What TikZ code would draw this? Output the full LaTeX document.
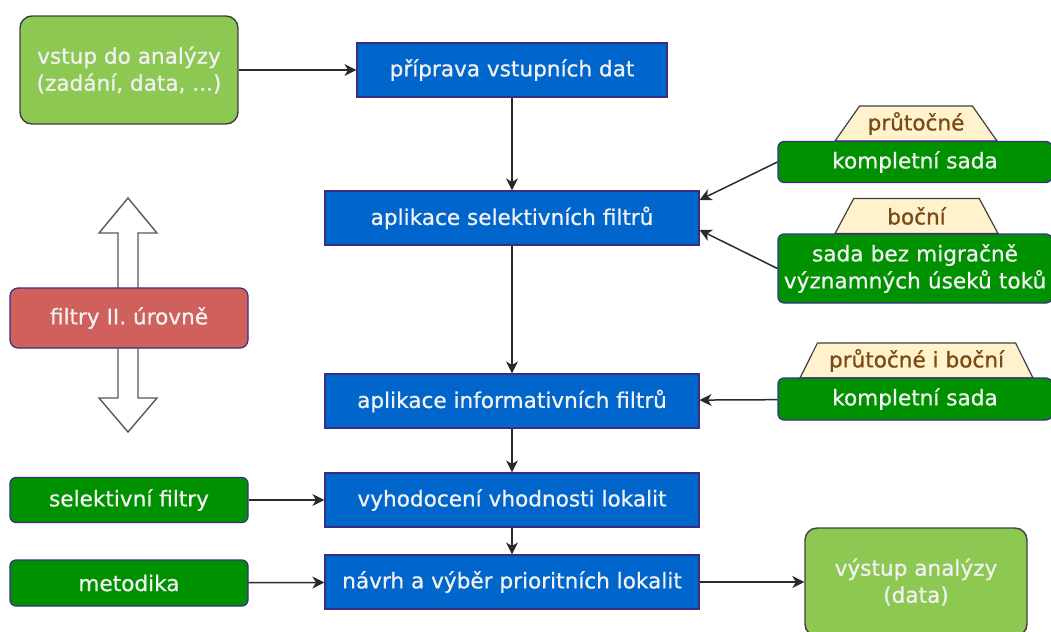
\documentclass[tikz,border=0pt]{standalone}
\usepackage{fontspec}
\setmainfont{DejaVu Sans}[FakeBold=0.7]
\usepackage{tikz}
\usetikzlibrary{positioning}
\usetikzlibrary{shapes.geometric}
\usetikzlibrary{arrows.meta}

\definecolor{stepblue}{HTML}{0066CC}
\definecolor{stepedge}{HTML}{3B2C86}
\definecolor{datagreen}{HTML}{009100}
\definecolor{iogreen}{HTML}{8DC853}
\definecolor{levelred}{HTML}{D0605C}
\definecolor{tabfill}{HTML}{FFF2CC}
\definecolor{tabtext}{HTML}{7A4A14}
\definecolor{boxtext}{HTML}{F2F2F2}
\definecolor{wire}{HTML}{2A2A2A}

\tikzset{
  every node/.style={font=\fontsize{10.8}{13.5}\selectfont},
  stepbox/.style={draw=stepedge, line width=0.6pt, fill=stepblue, text=boxtext,
    minimum width=187pt, minimum height=27pt, inner sep=0pt},
  iobox/.style={draw=black!75, line width=0.7pt, fill=iogreen, text=boxtext,
    rounded corners=6pt, align=center, minimum width=109pt, minimum height=54pt, inner sep=0pt},
  setbox/.style={draw=stepedge, line width=0.6pt, fill=datagreen, text=boxtext,
    rounded corners=3pt, align=center, minimum width=137pt, inner sep=0pt},
  sidebox/.style={setbox, minimum width=119pt},
  tab/.style={trapezium, trapezium stretches body, draw=black!75, line width=0.6pt,
    fill=tabfill, text=tabtext, minimum height=17.5pt, inner sep=1pt},
  link/.style={draw=wire, line width=0.75pt, -{Stealth[length=6pt,width=6pt,inset=1.8pt]}}
}

\begin{document}
\begin{tikzpicture}[x=0.5pt, y=-0.5pt]
\useasboundingbox (0,0) rectangle (1051,632);

% main chain
\node [iobox] (vstup) at (129,70) {vstup do analýzy\\(zadání, data, ...)};
\node [stepbox, minimum width=155pt] (prep) at (512,70) {příprava vstupních dat};
\node [stepbox] (sel) at (512,218) {aplikace selektivních filtrů};
\node [stepbox] (inf) at (512,401) {aplikace informativních filtrů};
\node [stepbox] (vyh) at (512,500) {vyhodocení vhodnosti lokalit};
\node [stepbox] (navrh) at (512,582) {návrh a výběr prioritních lokalit};
\node [iobox, minimum width=111pt] (vystup) at (916,582) {výstup analýzy\\(data)};

% second level filters
\draw [draw=black!65, line width=0.7pt, fill=white]
  (128,198) -- (157,233) -- (138,233) -- (138,398) -- (157,398) -- (128,432)
  -- (99,398) -- (118,398) -- (118,233) -- (99,233) -- cycle;
\node [sidebox, fill=levelred, minimum height=30pt, rounded corners=4pt] (level) at (129,318) {filtry II. úrovně};
\node [sidebox, minimum height=22.5pt] (selfilt) at (129,500) {selektivní filtry};
\node [sidebox, minimum height=23pt] (metod) at (129,583) {metodika};

% data sets
\node [tab, trapezium angle=47.5, minimum width=81pt] (tabflow) at (916,123.5) {průtočné};
\node [setbox, minimum height=20.5pt] (fullA) at (915,162) {kompletní sada};
\node [tab, trapezium angle=49, minimum width=81.5pt] (tabside) at (916.5,216) {boční};
\node [setbox, minimum height=34.5pt, text width=135pt] (reduced) at (915,268.5) {sada bez migračně\\významných úseků toků};
\node [tab, trapezium angle=57, minimum width=116.5pt] (taball) at (916.5,360.5) {průtočné i boční};
\node [setbox, minimum height=21pt] (fullB) at (915,399) {kompletní sada};

\draw [link] (vstup) -- (prep);
\draw [link] (prep) -- (sel);
\draw [link] (sel) -- (inf);
\draw [link] (inf) -- (vyh);
\draw [link] (vyh) -- (navrh);
\draw [link] (navrh) -- (vystup);
\draw [link] (selfilt) -- (vyh);
\draw [link] (metod) -- (navrh);
\draw [link] (fullA.west) -- ([yshift=9pt]sel.east);
\draw [link] (reduced.west) -- ([yshift=-6pt]sel.east);
\draw [link] (fullB) -- (inf);
\end{tikzpicture}
\end{document}
